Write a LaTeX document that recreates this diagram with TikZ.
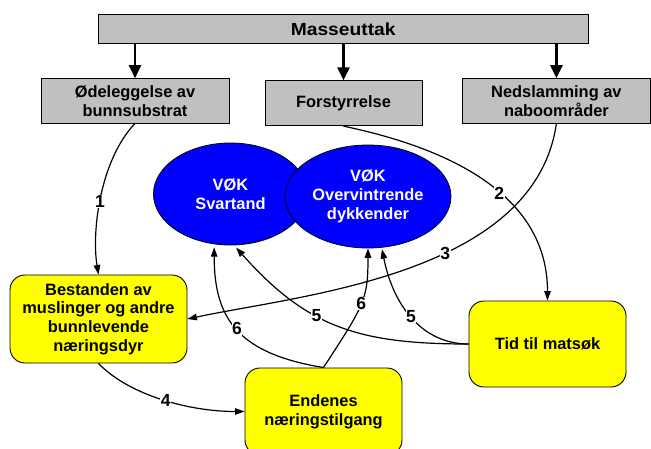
\documentclass[tikz,border=0pt]{standalone}
\usepackage{fontspec}
\setmainfont{Liberation Sans}
\newfontfamily\headfont[FakeStretch=1.1]{Liberation Sans}
\usetikzlibrary{arrows.meta,shapes.geometric}
\definecolor{boxgray}{HTML}{C0C0C0}
\definecolor{duckblue}{HTML}{0000FF}
\definecolor{foodyellow}{HTML}{FFFF00}

\begin{document}
\begin{tikzpicture}[x=1pt,y=1pt,
  lbl/.style={font=\bfseries\fontsize{16.4}{18.8}\selectfont, align=center},
  graybox/.style={lbl, draw=black, line width=0.9pt, fill=boxgray, inner sep=0pt},
  yellowbox/.style={lbl, draw=black, line width=0.9pt, fill=foodyellow,
    rounded corners=15pt, inner sep=0pt},
  vok/.style={lbl, ellipse, draw=black, line width=0.8pt, fill=duckblue,
    text=white, inner sep=0pt},
  bigarrow/.style={line width=2.6pt, -{Triangle[width=12pt,length=13pt]}},
  link/.style={line width=1.2pt, -{Triangle[width=6.5pt,length=9.5pt]}},
  num/.style={font=\bfseries\fontsize{17.5}{20}\selectfont, fill=white, inner sep=0.6pt}
]
\useasboundingbox (0,0) rectangle (651,-448);

% top level: source and its three direct effects
\node[graybox, minimum width=489.7pt, minimum height=29.7pt,
      font=\headfont\bfseries\fontsize{17.5}{20}\selectfont]
      (mass) at (343.2,-28.9) {Masseuttak};
\node[graybox, minimum width=188pt, minimum height=44.3pt]
      (ode) at (135,-100.8) {Ødeleggelse av\\bunnsubstrat};
\node[graybox, minimum width=157pt, minimum height=45pt]
      (for) at (343.5,-103.2) {Forstyrrelse};
\node[graybox, minimum width=187.3pt, minimum height=44.3pt]
      (ned) at (556.4,-100.8) {Nedslamming av\\naboområder};

% the two bird groups
\node[vok, minimum width=154pt, minimum height=102pt]
      (sv) at (230.5,-194) {VØK\\Svartand};
\node[vok, minimum width=166pt, minimum height=103pt]
      (ov) at (368,-196.5) {VØK\\Overvintrende\\dykkender};

% intermediate factors
\node[yellowbox, minimum width=177pt, minimum height=88pt]
      (bes) at (98.5,-319) {Bestanden av\\muslinger og andre\\bunnlevende\\næringsdyr};
\node[yellowbox, minimum width=157pt, minimum height=87pt]
      (end) at (323.5,-411.5) {Endenes\\næringstilgang};
\node[yellowbox, minimum width=157pt, minimum height=86pt]
      (tid) at (547.5,-344) {Tid til matsøk};

% heavy arrows from the source
\draw[bigarrow] (ode.north |- mass.south) -- (ode.north);
\draw[bigarrow] (for.north |- mass.south) -- (for.north);
\draw[bigarrow] (ned.north |- mass.south) -- (ned.north);

% numbered effect paths
\draw[link] (ode.south) .. controls +(-35,-37) and +(-7,43) ..
      node[num,pos=0.53]{1} (bes.north);
\draw[link] (for.south) .. controls +(115,-24) and +(0,101) ..
      node[num,pos=0.55]{2} (tid.north);
\draw[link] (ned.south) .. controls +(-21.7,-152) and +(112,24) ..
      node[num,pos=0.41]{3} (bes.east);
\draw[link] (bes.south) .. controls +(31,-32) and +(-55,0) ..
      node[num,pos=0.52]{4} (end.west);
\draw[link, shorten >=3pt] (tid.west) .. controls +(-110,0) and +(73,-82) ..
      node[num,pos=0.6]{5} (sv.274);
\draw[link, shorten >=1.5pt] (tid.west) .. controls +(-45,0) and +(12,-60) ..
      node[num,pos=0.52]{5} (ov.285);
\draw[link, shorten >=3pt] (end.north) .. controls +(-85,14) and +(0,-75) ..
      node[num,pos=0.5]{6} (sv.252);
\draw[link] (end.north) .. controls +(41,63) and +(0,-51) ..
      node[num,pos=0.5]{6} (ov.south);
\end{tikzpicture}
\end{document}
